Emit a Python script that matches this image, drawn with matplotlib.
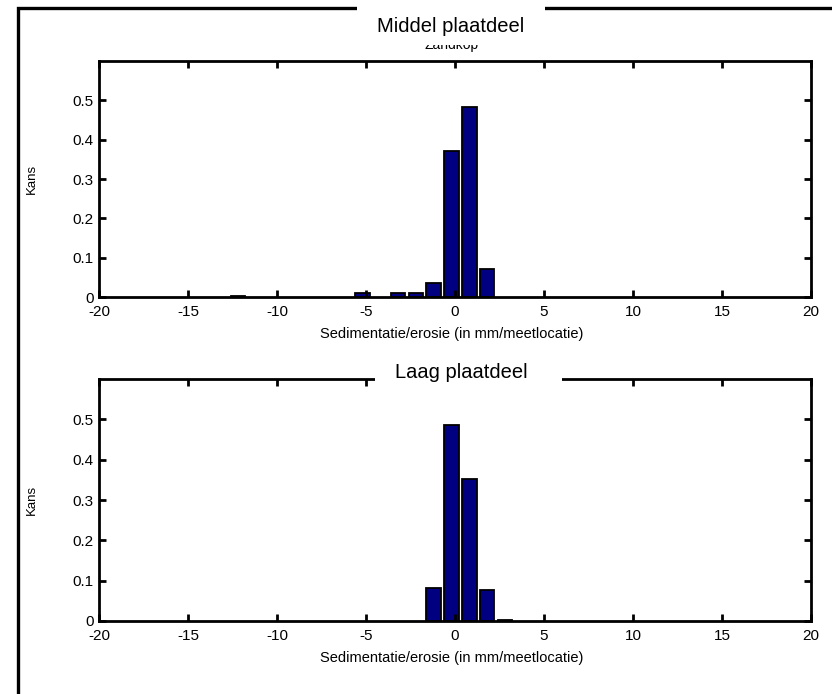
import matplotlib
matplotlib.use("Agg")
from matplotlib import pyplot as plt
from matplotlib.patches import Rectangle

plt.rcParams['font.family'] = ['Liberation Sans', 'DejaVu Sans']

# histogram of sedimentation/erosion per measuring location
midden_bins = [-12.2, -5.2, -3.2, -2.2, -1.2, -0.2, 0.8, 1.8]
midden_kans = [0.002, 0.010, 0.010, 0.010, 0.035, 0.371, 0.483, 0.070]

laag_bins = [-1.2, -0.2, 0.8, 1.8, 2.8]
laag_kans = [0.083, 0.485, 0.351, 0.077, 0.003]

xticks = [-20, -15, -10, -5, 0, 5, 10, 15, 20]
yticks = [0, 0.1, 0.2, 0.3, 0.4, 0.5]
xlabel = "Sedimentatie/erosie (in mm/meetlocatie)"

W, H = 832, 694
fig = plt.figure(figsize=(8.32, 6.94), dpi=100)

# outer frame (clipped by the figure edge on right/bottom)
frame = Rectangle((18/W, -0.1), 1.2, 1.1 - 8/H, transform=fig.transFigure,
                  fill=False, edgecolor='black', linewidth=2.4, zorder=0)
fig.patches.append(frame)

ax1 = fig.add_axes([99/W, 1 - 297/H, 712/W, 236/H])
ax2 = fig.add_axes([99/W, 1 - 621/H, 712/W, 242/H])

for ax, bins, kans in [(ax1, midden_bins, midden_kans), (ax2, laag_bins, laag_kans)]:
    ax.bar(bins, kans, width=0.82, color='#000080', edgecolor='black', linewidth=1.3)
    ax.set_xlim(-20, 20)
    ax.set_ylim(0, 0.6)
    ax.set_xticks(xticks)
    ax.set_yticks(yticks)
    ax.set_xticklabels([str(t) for t in xticks])
    ax.set_yticklabels(['0', '0.1', '0.2', '0.3', '0.4', '0.5'])
    ax.tick_params(direction='in', top=True, right=True, length=5, width=2,
                   labelsize=11, pad=4)
    ax.tick_params(axis='x', pad=6)
    for s in ax.spines.values():
        s.set_linewidth(2)
    ax.set_ylabel("Kans", fontsize=9.5)
    ax.yaxis.set_label_coords(-0.086, 0.5)
    ax.set_xlabel(xlabel, fontsize=10.5)

ax1.xaxis.set_label_coords(0.495, -0.127)
ax2.xaxis.set_label_coords(0.495, -0.125)

# half hidden subtitle below the main title
fig.text(452/W, 1 - 45/H, "Zandkop", ha='center', va='center', fontsize=10, zorder=1)

# white boxes behind the titles, covering the frame / axes lines
box1 = Rectangle((357/W, 1 - 45/H), 188/W, 45/H, transform=fig.transFigure,
                 facecolor='white', edgecolor='none', zorder=4)
box2 = Rectangle((375/W, 1 - 389/H), 187/W, 35/H, transform=fig.transFigure,
                 facecolor='white', edgecolor='none', zorder=4)
fig.artists.append(box1)
fig.artists.append(box2)

fig.text(451/W, 1 - 26/H, "Middel plaatdeel", ha='center', va='center',
         fontsize=14.5, zorder=5)
fig.text(461/W, 1 - 372/H, "Laag plaatdeel", ha='center', va='center',
         fontsize=14.5, zorder=5)

fig.savefig("out.png", dpi=100)
